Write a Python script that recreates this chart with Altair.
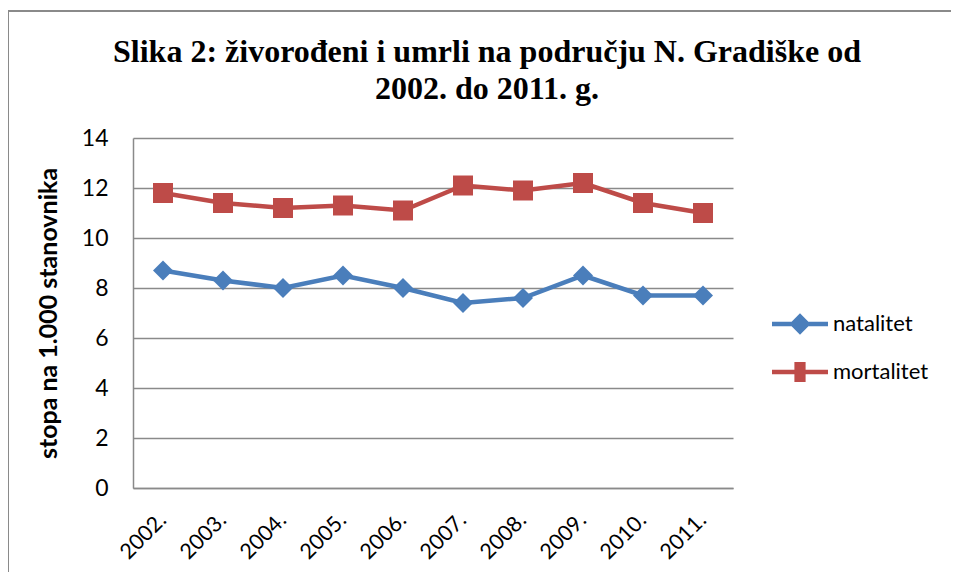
import altair as alt
import pandas as pd

years = ["2002.", "2003.", "2004.", "2005.", "2006.", "2007.", "2008.", "2009.", "2010.", "2011."]
natalitet = [8.7, 8.3, 8.0, 8.5, 8.0, 7.4, 7.6, 8.5, 7.7, 7.7]
mortalitet = [11.8, 11.4, 11.2, 11.3, 11.1, 12.1, 11.9, 12.2, 11.4, 11.0]
series = ["natalitet", "mortalitet"]
colors = ["#4A7EBB", "#BE4B48"]
shapes = ["diamond", "square"]
y_ticks = [0, 2, 4, 6, 8, 10, 12, 14]

rows = []
for name, vals in zip(series, [natalitet, mortalitet]):
    for yr, v in zip(years, vals):
        rows.append({"godina": yr, "vrijednost": v, "serija": name})
df = pd.DataFrame(rows)

FONT = "Lato"
GRID = "#8a8a8a"

diamond_path = "M-1,-0.08L1,-0.08L1,0.08L-1,0.08Z M0,-0.38L0.38,0L0,0.38L-0.38,0Z"
square_path = "M-1,-0.08L1,-0.08L1,0.08L-1,0.08Z M-0.2,-0.36L0.2,-0.36L0.2,0.36L-0.2,0.36Z"

x_enc = alt.X("godina:N", sort=years, scale=alt.Scale(type="point", padding=0.5),
              axis=alt.Axis(title=None, labelAngle=-45, labelFontSize=21.5, labelFont=FONT,
                            labelColor="black", ticks=False, domain=True, domainColor=GRID,
                            domainWidth=1.5, labelPadding=21, labelOffset=-8, grid=False))
y_enc = alt.Y("vrijednost:Q", scale=alt.Scale(domain=[0, 14], nice=False),
              axis=alt.Axis(title="stopa na 1.000 stanovnika", values=y_ticks, titleFont=FONT,
                            titleFontSize=25, titleFontWeight="bold", titleColor="black",
                            labelFont=FONT, labelFontSize=23, labelColor="black", ticks=False,
                            labelPadding=25, titlePadding=20, domain=True, domainColor=GRID,
                            domainWidth=1.5, grid=True, gridColor=GRID, gridWidth=1.5))
color_scale = alt.Scale(domain=series, range=colors)

legend = alt.Legend(title=None, orient="none", legendX=639, legendY=158,
                    labelFont=FONT, labelFontSize=22, labelColor="black",
                    labelOffset=5, symbolSize=3136, rowPadding=9,
                    symbolStrokeWidth=0, symbolOpacity=1,
                    symbolType={"expr": "datum.value === 'natalitet' ? '" + diamond_path + "' : '" + square_path + "'"})

lines = alt.Chart(df).mark_line(strokeWidth=4.5).encode(
    x=x_enc, y=y_enc,
    color=alt.Color("serija:N", scale=color_scale, legend=legend),
    detail="serija:N",
)

point_layers = []
for name, shp in zip(series, shapes):
    point_layers.append(
        alt.Chart(df).transform_filter(alt.datum.serija == name)
        .mark_point(filled=True, size=400, opacity=1, shape=shp)
        .encode(x=x_enc, y=y_enc,
                color=alt.Color("serija:N", scale=color_scale, legend=legend))
    )

frame_left = alt.Chart(df).mark_rule(color="#8a8a8a", strokeWidth=2).encode(
    x=alt.value(-125), y=alt.value(-127), y2=alt.value(460))
frame_top = alt.Chart(df).mark_rule(color="#8a8a8a", strokeWidth=2).encode(
    x=alt.value(-126), x2=alt.value(830), y=alt.value(-127))

chart = alt.layer(frame_left, frame_top, lines, *point_layers).properties(
    width=600, height=350,
    autosize=alt.AutoSizeParams(type="none"),
    padding={"left": 125, "top": 130, "right": 218, "bottom": 84},
    title=alt.TitleParams(text=["Slika 2: živorođeni i umrli na području N. Gradiške od", "2002. do 2011. g."],
                          font="Liberation Serif", fontSize=32, fontWeight="bold", color="black",
                          anchor="middle", frame="group", dx=54, offset=-96, lineHeight=37),
).configure(background="white", view=alt.ViewConfig(stroke=None))

chart.save("out.html", embed_options={"renderer": "svg", "actions": False})
